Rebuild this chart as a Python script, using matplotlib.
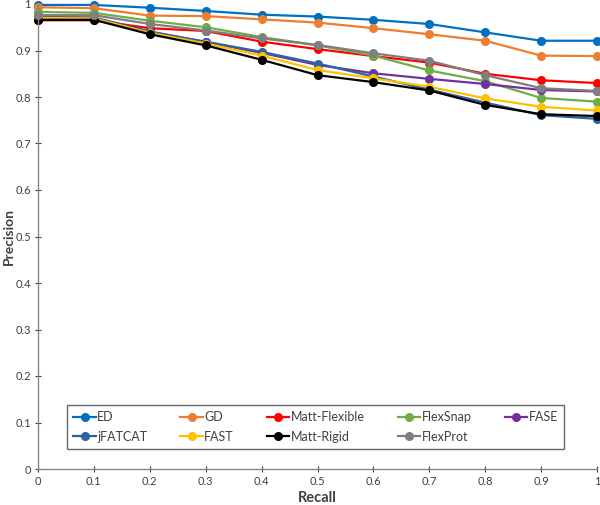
import matplotlib.pyplot as plt
import numpy as np

plt.rcParams['font.family'] = ['Lato', 'DejaVu Sans']

recall = [0, 0.1, 0.2, 0.3, 0.4, 0.5, 0.6, 0.7, 0.8, 0.9, 1.0]

ed = [0.998, 0.998, 0.992, 0.985, 0.977, 0.973, 0.966, 0.957, 0.939, 0.921, 0.921]
gd = [0.993, 0.991, 0.975, 0.974, 0.967, 0.960, 0.948, 0.935, 0.921, 0.889, 0.888]
matt_flex = [0.965, 0.965, 0.948, 0.942, 0.919, 0.903, 0.888, 0.874, 0.850, 0.836, 0.830]
flexsnap = [0.983, 0.981, 0.964, 0.950, 0.929, 0.911, 0.889, 0.857, 0.834, 0.798, 0.790]
fase = [0.972, 0.971, 0.941, 0.918, 0.895, 0.869, 0.851, 0.839, 0.828, 0.815, 0.812]
jfatcat = [0.971, 0.970, 0.940, 0.919, 0.897, 0.872, 0.844, 0.816, 0.788, 0.761, 0.753]
fast = [0.970, 0.969, 0.938, 0.915, 0.889, 0.858, 0.840, 0.822, 0.797, 0.779, 0.771]
matt_rigid = [0.966, 0.966, 0.935, 0.911, 0.880, 0.847, 0.832, 0.814, 0.783, 0.763, 0.759]
flexprot = [0.976, 0.976, 0.957, 0.943, 0.926, 0.912, 0.894, 0.878, 0.847, 0.819, 0.813]

series = [
    ('ED', ed, '#0070C0'),
    ('GD', gd, '#ED7D31'),
    ('Matt-Flexible', matt_flex, '#FF0000'),
    ('FlexSnap', flexsnap, '#70AD47'),
    ('FASE', fase, '#7030A0'),
    ('jFATCAT', jfatcat, '#2E62A0'),
    ('FAST', fast, '#FFC000'),
    ('Matt-Rigid', matt_rigid, '#000000'),
    ('FlexProt', flexprot, '#7F7F7F'),
]

fig = plt.figure(figsize=(6.0, 5.05), dpi=100)
ax = fig.add_axes([38 / 600, 1 - 469 / 505, 559 / 600, 465 / 505])

handles = {}
for name, vals, col in series:
    h, = ax.plot(recall, vals, color=col, lw=1.6, marker='o', markersize=5.5, label=name, clip_on=False)
    handles[name] = h

ax.set_xlim(0, 1)
ax.set_ylim(0, 1)
ax.set_xticks(np.arange(0, 1.01, 0.1))
ax.set_yticks(np.arange(0, 1.01, 0.1))
ax.set_xticklabels(['0', '0.1', '0.2', '0.3', '0.4', '0.5', '0.6', '0.7', '0.8', '0.9', '1'])
ax.set_yticklabels(['0', '0.1', '0.2', '0.3', '0.4', '0.5', '0.6', '0.7', '0.8', '0.9', '1'])
ax.tick_params(labelsize=8, colors='#404040', length=4, direction='inout', width=0.8, pad=3)
for s in ['top', 'right']:
    ax.spines[s].set_visible(False)
for s in ['left', 'bottom']:
    ax.spines[s].set_color('#868686')
    ax.spines[s].set_linewidth(1.0)

ax.set_xlabel('Recall', fontsize=10.5, fontweight='bold', color='#404040')
ax.set_ylabel('Precision', fontsize=10, fontweight='bold', color='#404040')
ax.xaxis.set_label_coords(0.5, -0.048)
ax.yaxis.set_label_coords(-0.042, 0.5)

order = ['ED', 'jFATCAT', 'GD', 'FAST', 'Matt-Flexible', 'Matt-Rigid', 'FlexSnap', 'FlexProt', 'FASE']
leg = fig.legend([handles[n] for n in order], order, ncol=5, mode='expand',
                 bbox_to_anchor=(67 / 600, 1 - 449 / 505, 497 / 600, 44 / 505),
                 loc='lower left', fontsize=9, frameon=True, fancybox=False,
                 edgecolor='#404040', handlelength=1.8, handletextpad=0.1,
                 borderpad=0.5, labelspacing=0.6, borderaxespad=0)
leg.get_frame().set_linewidth(1.0)
for t in leg.get_texts():
    t.set_color('#404040')

fig.savefig('out.png', dpi=100)
